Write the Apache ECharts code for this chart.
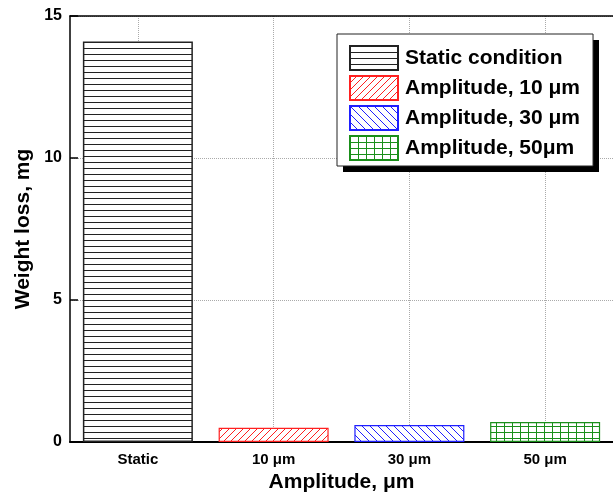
<!DOCTYPE html>
<html>
<head>
<meta charset="utf-8">
<script src="https://cdn.jsdelivr.net/npm/echarts@6/dist/echarts.min.js"></script>
<style>
html,body{margin:0;padding:0;background:#fff;}
#chart{width:613px;height:498px;}
</style>
</head>
<body>
<div id="chart"></div>
<script>
// ---- data ----
const categories = ['Static', '10 μm', '30 μm', '50 μm'];
const seriesNames = ['Static condition', 'Amplitude, 10 μm', 'Amplitude, 30 μm', 'Amplitude, 50μm'];
const weightLoss = [14.1, 0.5, 0.6, 0.7];
const yTicks = [0, 5, 10, 15];

// ---- styles ----
const FONT = "'Liberation Sans', Arial, sans-serif";
const lineColors = ['#222222', '#ff2020', '#1f1fff', '#1a8f1a'];
const patternKinds = ['hline', 'slash', 'backslash', 'grid'];

function makePattern(kind, color) {
  let w = 6, h = 6;
  if (kind === 'slash') { w = 7; h = 7; }
  if (kind === 'backslash') { w = 8; h = 8; }
  if (kind === 'grid') { w = 8; h = 6; }
  const c = document.createElement('canvas');
  c.width = w; c.height = h;
  const ctx = c.getContext('2d');
  ctx.fillStyle = '#fff';
  ctx.fillRect(0, 0, w, h);
  ctx.strokeStyle = color;
  ctx.lineWidth = 1;
  ctx.beginPath();
  if (kind === 'hline') {
    ctx.moveTo(0, 0.5); ctx.lineTo(w, 0.5);
  } else if (kind === 'slash') {
    ctx.moveTo(0, h); ctx.lineTo(w, 0);
    ctx.moveTo(-1, 1); ctx.lineTo(1, -1);
    ctx.moveTo(w - 1, h + 1); ctx.lineTo(w + 1, h - 1);
  } else if (kind === 'backslash') {
    ctx.moveTo(0, 0); ctx.lineTo(w, h);
    ctx.moveTo(-1, h - 1); ctx.lineTo(1, h + 1);
    ctx.moveTo(w - 1, -1); ctx.lineTo(w + 1, 1);
  } else if (kind === 'grid') {
    ctx.moveTo(0.5, 0); ctx.lineTo(0.5, h);
    ctx.moveTo(0, 0.5); ctx.lineTo(w, 0.5);
  }
  ctx.stroke();
  return c;
}

const series = seriesNames.map(function (name, i) {
  return {
    name: name,
    type: 'bar',
    xAxisIndex: 0,
    barWidth: 110,
    barGap: '-100%',
    data: categories.map(function (_, j) { return j === i ? weightLoss[j] : '-'; }),
    itemStyle: {
      color: { image: makePattern(patternKinds[i], lineColors[i]), repeat: 'repeat' },
      borderColor: lineColors[i],
      borderWidth: i === 0 ? 1.5 : 1.2
    },
    emphasis: { disabled: true }
  };
});

// helper axis: 2 slots per category so gridlines fall on category centres
const gridSlots = [];
for (let k = 0; k <= categories.length * 2; k++) gridSlots.push('');

const chart = echarts.init(document.getElementById('chart'), null, { renderer: 'canvas' });
chart.setOption({
  animation: false,
  backgroundColor: '#fff',
  textStyle: { fontFamily: FONT },
  grid: { left: 70, right: -1, top: 16, bottom: 56 },
  graphic: [{
    type: 'rect',
    z: 3,
    shape: { x: 343, y: 40, width: 256, height: 132 },
    style: { fill: '#000' },
    silent: true
  }],
  legend: {
    left: 337, top: 34,
    z: 5,
    orient: 'vertical',
    icon: 'rect',
    itemWidth: 48, itemHeight: 24, itemGap: 4,
    padding: [11, 13, 5, 12],
    backgroundColor: '#fff',
    borderColor: '#222',
    borderWidth: 1,
    selectedMode: false,
    textStyle: { fontFamily: FONT, fontSize: 21, fontWeight: 'bold', color: '#000', padding: [0, 0, 0, 2] },
    data: seriesNames
  },
  xAxis: [
    {
      type: 'category',
      data: categories,
      position: 'bottom',
      axisLine: { lineStyle: { color: '#000', width: 2 } },
      axisTick: { show: false },
      axisLabel: { fontFamily: FONT, fontSize: 15, fontWeight: 'bold', color: '#000', margin: 10 },
      splitLine: { show: false },
      name: 'Amplitude, μm',
      nameLocation: 'middle',
      nameGap: 27,
      nameTextStyle: { fontFamily: FONT, fontSize: 21, fontWeight: 'bold', color: '#000' }
    },
    {
      type: 'category',
      position: 'top',
      boundaryGap: false,
      data: gridSlots,
      axisLine: { show: true, onZero: false, lineStyle: { color: '#000', width: 1.5 } },
      axisTick: { show: false },
      axisLabel: { show: false },
      splitLine: {
        show: true,
        interval: function (index) { return index % 2 === 1; },
        lineStyle: { color: '#aaa', type: 'dotted', width: 1 }
      }
    }
  ],
  yAxis: {
    type: 'value',
    min: yTicks[0], max: yTicks[yTicks.length - 1], interval: yTicks[1] - yTicks[0],
    axisLine: { show: true, onZero: false, lineStyle: { color: '#000', width: 1.5 } },
    axisTick: { show: true, inside: true, length: 8, lineStyle: { color: '#000', width: 1.5 } },
    axisLabel: { fontFamily: FONT, fontSize: 16, fontWeight: 'bold', color: '#000', margin: 8 },
    splitLine: { show: true, lineStyle: { color: '#aaa', type: 'dotted', width: 1 } },
    name: 'Weight loss, mg',
    nameLocation: 'middle',
    nameGap: 26,
    nameTextStyle: { fontFamily: FONT, fontSize: 21, fontWeight: 'bold', color: '#000' }
  },
  series: series
});
</script>
</body>
</html>
